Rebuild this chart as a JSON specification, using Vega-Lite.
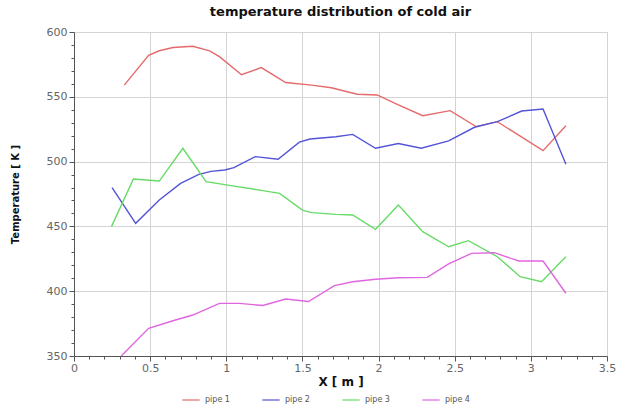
{
  "$schema": "https://vega.github.io/schema/vega-lite/v6.json",
  "width": 533,
  "height": 324,
  "autosize": "none",
  "padding": {"left": 74, "top": 32, "right": 14, "bottom": 53},
  "background": "white",
  "title": {"text": "temperature distribution of cold air", "fontSize": 13, "font": "DejaVu Sans", "fontWeight": "bold", "color": "#111", "offset": 7, "anchor": "middle"},
  "config": {"view": {"stroke": "#bbb"}, "font": "DejaVu Sans"},
  "data": {"values": [
    {"series": "pipe 1", "x": 0.33, "T": 559},
    {"series": "pipe 1", "x": 0.49, "T": 582},
    {"series": "pipe 1", "x": 0.56, "T": 585.5},
    {"series": "pipe 1", "x": 0.65, "T": 588},
    {"series": "pipe 1", "x": 0.78, "T": 589},
    {"series": "pipe 1", "x": 0.89, "T": 585.5},
    {"series": "pipe 1", "x": 0.955, "T": 581},
    {"series": "pipe 1", "x": 1.1, "T": 567},
    {"series": "pipe 1", "x": 1.23, "T": 572.5},
    {"series": "pipe 1", "x": 1.39, "T": 561},
    {"series": "pipe 1", "x": 1.56, "T": 559},
    {"series": "pipe 1", "x": 1.69, "T": 557},
    {"series": "pipe 1", "x": 1.86, "T": 552},
    {"series": "pipe 1", "x": 1.99, "T": 551.4},
    {"series": "pipe 1", "x": 2.13, "T": 543.7},
    {"series": "pipe 1", "x": 2.29, "T": 535.4},
    {"series": "pipe 1", "x": 2.47, "T": 539.3},
    {"series": "pipe 1", "x": 2.64, "T": 527},
    {"series": "pipe 1", "x": 2.78, "T": 530.8},
    {"series": "pipe 1", "x": 3.08, "T": 508.4},
    {"series": "pipe 1", "x": 3.23, "T": 527.7},
    {"series": "pipe 2", "x": 0.25, "T": 480},
    {"series": "pipe 2", "x": 0.405, "T": 452.4},
    {"series": "pipe 2", "x": 0.56, "T": 470.4},
    {"series": "pipe 2", "x": 0.7, "T": 483.2},
    {"series": "pipe 2", "x": 0.82, "T": 490.2},
    {"series": "pipe 2", "x": 0.9, "T": 492.5},
    {"series": "pipe 2", "x": 0.99, "T": 493.5},
    {"series": "pipe 2", "x": 1.05, "T": 495.3},
    {"series": "pipe 2", "x": 1.19, "T": 503.8},
    {"series": "pipe 2", "x": 1.34, "T": 501.8},
    {"series": "pipe 2", "x": 1.48, "T": 515},
    {"series": "pipe 2", "x": 1.55, "T": 517.4},
    {"series": "pipe 2", "x": 1.72, "T": 519.2},
    {"series": "pipe 2", "x": 1.83, "T": 521},
    {"series": "pipe 2", "x": 1.98, "T": 510.3},
    {"series": "pipe 2", "x": 2.13, "T": 514},
    {"series": "pipe 2", "x": 2.28, "T": 510.3},
    {"series": "pipe 2", "x": 2.46, "T": 516},
    {"series": "pipe 2", "x": 2.63, "T": 526.5},
    {"series": "pipe 2", "x": 2.78, "T": 530.8},
    {"series": "pipe 2", "x": 2.94, "T": 539},
    {"series": "pipe 2", "x": 3.08, "T": 540.6},
    {"series": "pipe 2", "x": 3.23, "T": 498},
    {"series": "pipe 3", "x": 0.246, "T": 449.8},
    {"series": "pipe 3", "x": 0.39, "T": 486.6},
    {"series": "pipe 3", "x": 0.56, "T": 485},
    {"series": "pipe 3", "x": 0.715, "T": 510.3},
    {"series": "pipe 3", "x": 0.867, "T": 484.5},
    {"series": "pipe 3", "x": 1.0, "T": 482},
    {"series": "pipe 3", "x": 1.22, "T": 478},
    {"series": "pipe 3", "x": 1.35, "T": 475.5},
    {"series": "pipe 3", "x": 1.5, "T": 462.6},
    {"series": "pipe 3", "x": 1.56, "T": 460.6},
    {"series": "pipe 3", "x": 1.72, "T": 459.3},
    {"series": "pipe 3", "x": 1.83, "T": 458.8},
    {"series": "pipe 3", "x": 1.98, "T": 447.8},
    {"series": "pipe 3", "x": 2.13, "T": 466.5},
    {"series": "pipe 3", "x": 2.29, "T": 445.9},
    {"series": "pipe 3", "x": 2.46, "T": 434.3},
    {"series": "pipe 3", "x": 2.59, "T": 439},
    {"series": "pipe 3", "x": 2.78, "T": 426.6},
    {"series": "pipe 3", "x": 2.93, "T": 411.2},
    {"series": "pipe 3", "x": 3.07, "T": 407.3},
    {"series": "pipe 3", "x": 3.23, "T": 426.6},
    {"series": "pipe 4", "x": 0.31, "T": 350},
    {"series": "pipe 4", "x": 0.49, "T": 371.4},
    {"series": "pipe 4", "x": 0.65, "T": 377.2},
    {"series": "pipe 4", "x": 0.78, "T": 381.6},
    {"series": "pipe 4", "x": 0.955, "T": 390.6},
    {"series": "pipe 4", "x": 1.085, "T": 390.6},
    {"series": "pipe 4", "x": 1.24, "T": 389},
    {"series": "pipe 4", "x": 1.39, "T": 394},
    {"series": "pipe 4", "x": 1.54, "T": 392},
    {"series": "pipe 4", "x": 1.71, "T": 404.3},
    {"series": "pipe 4", "x": 1.83, "T": 407.3},
    {"series": "pipe 4", "x": 1.98, "T": 409.2},
    {"series": "pipe 4", "x": 2.13, "T": 410.4},
    {"series": "pipe 4", "x": 2.32, "T": 410.7},
    {"series": "pipe 4", "x": 2.46, "T": 421},
    {"series": "pipe 4", "x": 2.61, "T": 429.2},
    {"series": "pipe 4", "x": 2.76, "T": 429.7},
    {"series": "pipe 4", "x": 2.92, "T": 423.3},
    {"series": "pipe 4", "x": 3.08, "T": 423.3},
    {"series": "pipe 4", "x": 3.23, "T": 398.4}
  ]},
  "mark": {"type": "line", "strokeWidth": 1.4, "clip": true},
  "encoding": {
    "x": {"field": "x", "type": "quantitative", "scale": {"domain": [0, 3.5], "nice": false, "zero": false},
      "axis": {"title": "X [ m ]", "titleFontSize": 12, "titleFontWeight": "bold", "titleColor": "#111", "titlePadding": 3,
        "values": [0, 0.1, 0.2, 0.3, 0.4, 0.5, 0.6, 0.7, 0.8, 0.9, 1, 1.1, 1.2, 1.3, 1.4, 1.5, 1.6, 1.7, 1.8, 1.9, 2, 2.1, 2.2, 2.3, 2.4, 2.5, 2.6, 2.7, 2.8, 2.9, 3, 3.1, 3.2, 3.3, 3.4, 3.5],
        "labelExpr": "abs(round(datum.value*2) - datum.value*2) < 0.001 ? format(datum.value, '~g') : ''",
        "labelOverlap": false, "labelFontSize": 11, "labelColor": "#666", "labelPadding": 1,
        "tickSize": {"condition": {"test": "abs(round(datum.value*2) - datum.value*2) < 0.001", "value": 5}, "value": 3},
        "gridOpacity": {"condition": {"test": "abs(round(datum.value*2) - datum.value*2) < 0.001", "value": 1}, "value": 0},
        "tickColor": "#555", "domainColor": "#555", "gridColor": "#d4d4d4", "labelFlush": false}},
    "y": {"field": "T", "type": "quantitative", "scale": {"domain": [350, 600], "nice": false, "zero": false},
      "axis": {"title": "Temperature [ K ]", "titleFontSize": 10, "titleFontWeight": "bold", "titleColor": "#111", "titlePadding": 26,
        "values": [350, 360, 370, 380, 390, 400, 410, 420, 430, 440, 450, 460, 470, 480, 490, 500, 510, 520, 530, 540, 550, 560, 570, 580, 590, 600],
        "labelExpr": "datum.value % 50 === 0 ? datum.label : ''",
        "labelOverlap": false, "labelFontSize": 11, "labelColor": "#666", "labelPadding": 2,
        "tickSize": {"condition": {"test": "datum.value % 50 === 0", "value": 5}, "value": 3},
        "gridOpacity": {"condition": {"test": "datum.value % 50 === 0", "value": 1}, "value": 0},
        "tickColor": "#555", "domainColor": "#555", "gridColor": "#d4d4d4", "labelFlush": false}},
    "color": {"field": "series", "type": "nominal",
      "scale": {"domain": ["pipe 1", "pipe 2", "pipe 3", "pipe 4"], "range": ["#e56a6c", "#5454d8", "#66db66", "#e066e0"]},
      "legend": {"orient": "none", "legendX": 107, "legendY": 358, "direction": "horizontal", "title": null, "symbolType": "stroke", "symbolStrokeWidth": 2,
        "symbolSize": 300, "labelFontSize": 8, "labelColor": "#555", "columnPadding": 28, "symbolOpacity": 0.6}}
  }
}
